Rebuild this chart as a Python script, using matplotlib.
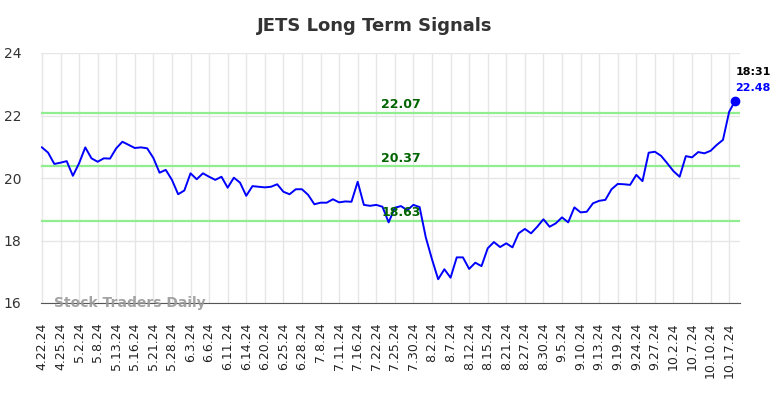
# jets_signals.py
import matplotlib
matplotlib.use("Agg")
import matplotlib.pyplot as plt

# data -----------------------------------------------------------------------
prices = [
    20.98, 20.81, 20.45, 20.49, 20.54, 20.07, 20.47, 20.98, 20.63, 20.52,
    20.63, 20.62, 20.95, 21.16, 21.06, 20.96, 20.98, 20.95, 20.64, 20.17,
    20.26, 19.94, 19.48, 19.60, 20.15, 19.96, 20.15, 20.04, 19.94, 20.04,
    19.69, 20.01, 19.85, 19.43, 19.74, 19.72, 19.70, 19.72, 19.80, 19.56,
    19.48, 19.64, 19.64, 19.46, 19.16, 19.21, 19.21, 19.32, 19.22, 19.25,
    19.24, 19.88, 19.14, 19.11, 19.14, 19.08, 18.58, 19.05, 19.10, 18.97,
    19.14, 19.07, 18.10, 17.40, 16.76, 17.08, 16.81, 17.46, 17.46, 17.09,
    17.29, 17.18, 17.75, 17.95, 17.79, 17.91, 17.78, 18.23, 18.37, 18.23,
    18.44, 18.68, 18.44, 18.55, 18.74, 18.58, 19.06, 18.90, 18.92, 19.19,
    19.27, 19.30, 19.64, 19.81, 19.80, 19.78, 20.10, 19.90, 20.81, 20.84,
    20.71, 20.47, 20.22, 20.04, 20.70, 20.66, 20.83, 20.79, 20.87, 21.06,
    21.22, 22.12, 22.48,
]
tick_labels = [
    "4.22.24", "4.25.24", "5.2.24", "5.8.24", "5.13.24", "5.16.24", "5.21.24",
    "5.28.24", "6.3.24", "6.6.24", "6.11.24", "6.14.24", "6.20.24", "6.25.24",
    "6.28.24", "7.8.24", "7.11.24", "7.16.24", "7.22.24", "7.25.24", "7.30.24",
    "8.2.24", "8.7.24", "8.12.24", "8.15.24", "8.21.24", "8.27.24", "8.30.24",
    "9.5.24", "9.10.24", "9.13.24", "9.19.24", "9.24.24", "9.27.24", "10.2.24",
    "10.7.24", "10.10.24", "10.17.24",
]
levels = [22.07, 20.37, 18.63]
last_time = "18:31"

# plot -----------------------------------------------------------------------
fig = plt.figure(figsize=(7.84, 3.98), dpi=100)
ax = fig.add_axes([41 / 784, 1 - 303 / 398, 699 / 784, 250 / 398])

x = list(range(len(prices)))
ticks = list(range(0, len(prices), 3))[: len(tick_labels)]

ax.set_xlim(-0.15, 112.75)
ax.set_ylim(16, 24)
ax.set_yticks([16, 18, 20, 22, 24])
ax.set_xticks(ticks)
ax.set_xticklabels(tick_labels, rotation=90, fontsize=9, color="#222222")
ax.tick_params(axis="y", labelsize=10, colors="#333333", length=0, pad=14)
ax.tick_params(axis="x", length=0, pad=14)
ax.grid(True, color="#e6e6e6", linewidth=1)
ax.set_axisbelow(True)
for s in ["top", "right", "left"]:
    ax.spines[s].set_visible(False)
ax.spines["bottom"].set_color("#555555")

for lv in levels:
    ax.axhline(lv, color="#90ee90", linewidth=1.6, zorder=2)
    ax.text(58, lv + 0.06, f"{lv:.2f}", color="#006400", fontsize=9,
            fontweight="bold", ha="center", va="bottom", zorder=4)

ax.plot(x, prices, color="blue", linewidth=1.4, zorder=3)
ax.scatter([x[-1]], [prices[-1]], color="blue", s=36, zorder=5)
ax.text(x[-1], prices[-1] + 0.75, last_time, fontsize=8, fontweight="bold",
        color="black", ha="left", va="bottom")
ax.text(x[-1], prices[-1] + 0.25, f"{prices[-1]:.2f}", fontsize=8,
        fontweight="bold", color="blue", ha="left", va="bottom")

ax.text(2, 16.0, "Stock Traders Daily", fontsize=10, fontweight="bold",
        color="#999999", alpha=0.9, ha="left", va="center")

fig.text(375 / 784, 1 - 26 / 398, "JETS Long Term Signals", fontsize=13,
         fontweight="bold", color="#333333", ha="center", va="center")

plt.savefig("out.png", dpi=100)
